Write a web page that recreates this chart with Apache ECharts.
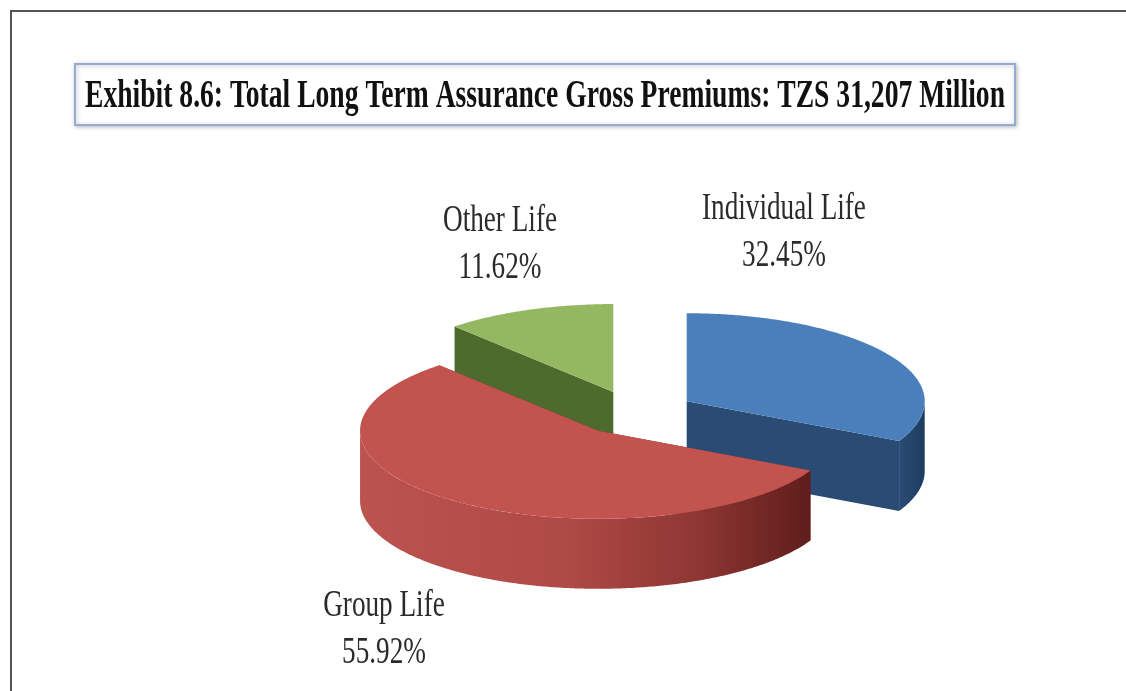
<!DOCTYPE html>
<html><head><meta charset="utf-8">
<script src="https://cdn.jsdelivr.net/npm/echarts@6/dist/echarts.min.js"></script>
<style>html,body{margin:0;padding:0;background:#fff}#c{width:1126px;height:691px}</style>
</head><body><div id="c"></div>
<script>
// ---- data ----
const categories = ['Individual Life', 'Group Life', 'Other Life'];
const values = [32.45, 55.92, 11.62];
const titleText = 'Exhibit 8.6: Total Long Term Assurance Gross Premiums: TZS 31,207 Million';

// ---- layout / style ----
const PIE = { cx: 635, cy: 413, a: 238, b: 88, h: 70 };
const explode = [0.255, 0.255, 0.255];
const topColors = ['#4b7fbc', '#c2534f', '#94b761'];
const cutColors = ['#2a4c74', '#7a2d2b', '#4e6a2c'];
const wallColors = [
  { type: 'linear', x: 0, y: 0, x2: 1, y2: 0, colorStops: [{ offset: 0, color: '#2a4d76' }, { offset: 1, color: '#1e3c5f' }] },
  { type: 'linear', x: 0, y: 0, x2: 1, y2: 0, colorStops: [{ offset: 0, color: '#bb534f' }, { offset: 0.45, color: '#b04a46' }, { offset: 0.75, color: '#8e3633' }, { offset: 1, color: '#5f1d1c' }] },
  { type: 'linear', x: 0, y: 0, x2: 1, y2: 0, colorStops: [{ offset: 0, color: '#4e6a2c' }, { offset: 1, color: '#3f5a22' }] }
];
const labelPos = [[784, 233], [384, 630], [500, 245]];
const LABEL_FONT = 37, LABEL_SCALE = 0.735, LABEL_LH = 47;

const total = values.reduce((s, v) => s + v, 0);
const starts = [];
let acc = 0;
values.forEach(v => { starts.push(acc / total * 2 * Math.PI); acc += v; });
const depthKey = values.map((v, i) => -Math.cos(starts[i] + v / total * Math.PI));
const order = depthKey.map((k, i) => i).sort((p, q) => depthKey[p] - depthKey[q]);
const rankOf = []; order.forEach((idx, r) => { rankOf[idx] = r; });

function measure(text, font) {
  const ctx = document.createElement('canvas').getContext('2d');
  ctx.font = font;
  return ctx.measureText(text).width;
}

function renderItem(params, api) {
  const i = params.dataIndex;
  const v = api.value(0);
  const s = starts[i], e = s + v / total * 2 * Math.PI;
  const m = (s + e) / 2;
  const cx = PIE.cx + explode[i] * PIE.a * Math.sin(m);
  const cy = PIE.cy - explode[i] * PIE.b * Math.cos(m);
  const P = (phi, dz) => [cx + PIE.a * Math.sin(phi), cy - PIE.b * Math.cos(phi) + dz];
  const base = rankOf[i] * 10;
  const children = [];
  [s, e].forEach(phi => {
    children.push({
      type: 'polygon', z2: base + 1,
      shape: { points: [[cx, cy], P(phi, 0), P(phi, PIE.h), [cx, cy + PIE.h]] },
      style: { fill: cutColors[i] }
    });
  });
  const ws = Math.max(s, Math.PI / 2), we = Math.min(e, 3 * Math.PI / 2);
  if (we > ws) {
    const pts = [];
    const n = Math.max(4, Math.ceil((we - ws) / 0.01));
    for (let k = 0; k <= n; k++) pts.push(P(ws + (we - ws) * k / n, 0));
    for (let k = n; k >= 0; k--) pts.push(P(ws + (we - ws) * k / n, PIE.h));
    children.push({ type: 'polygon', z2: base + 2, shape: { points: pts }, style: { fill: wallColors[i] } });
  }
  const tp = [[cx, cy]];
  const nt = Math.max(4, Math.ceil((e - s) / 0.01));
  for (let k = 0; k <= nt; k++) tp.push(P(s + (e - s) * k / nt, 0));
  children.push({ type: 'polygon', z2: base + 3, shape: { points: tp }, style: { fill: topColors[i] } });
  children.push({
    type: 'text', z2: 100, x: labelPos[i][0], y: labelPos[i][1], scaleX: LABEL_SCALE,
    style: {
      text: categories[i] + '\n' + v.toFixed(2) + '%',
      font: LABEL_FONT + 'px "Liberation Serif"', fill: '#2b2b2b',
      align: 'center', verticalAlign: 'middle', lineHeight: LABEL_LH
    }
  });
  return { type: 'group', children };
}

const titleFont = 'bold 40px "Liberation Serif"';
const titleScale = 920 / measure(titleText, titleFont);

const chart = echarts.init(document.getElementById('c'), null, { renderer: 'canvas' });
const option = {
  backgroundColor: '#ffffff',
  animation: false,
  graphic: [
    { type: 'line', shape: { x1: 10, y1: 11, x2: 1126, y2: 11 }, style: { stroke: '#555', lineWidth: 2 } },
    { type: 'line', shape: { x1: 11, y1: 10, x2: 11, y2: 691 }, style: { stroke: '#555', lineWidth: 2 } },
    { type: 'rect', shape: { x: 75, y: 64, width: 940, height: 61 },
      style: { fill: '#fff', stroke: '#93acd3', lineWidth: 2, shadowBlur: 4, shadowColor: 'rgba(0,0,0,0.25)', shadowOffsetX: 1, shadowOffsetY: 1 } },
    { type: 'text', x: 545, y: 97, scaleX: titleScale, z: 10,
      style: { text: titleText, font: titleFont, fill: '#111', align: 'center', verticalAlign: 'middle' } }
  ],
  series: [{
    type: 'custom',
    coordinateSystem: 'none',
    renderItem: renderItem,
    data: values.map(v => [v])
  }]
};
chart.setOption(option);
</script></body></html>
